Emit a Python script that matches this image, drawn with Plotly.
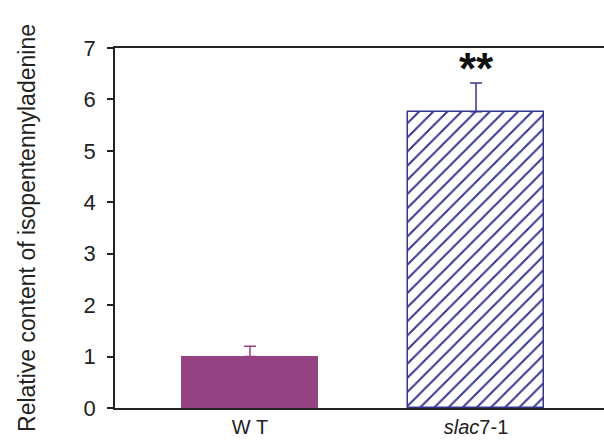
import plotly.graph_objects as go

categories = ["WT", "<i>slac</i>7-1"]
values = [1.0, 5.76]
errors = [0.2, 0.56]
significance = ["", "**"]

purple = "#954283"
blue = "#35358f"

fig = go.Figure()

# Wild type: solid purple bar
fig.add_trace(go.Bar(
    x=[0], y=[values[0]], width=0.605,
    marker=dict(color=purple, line=dict(color=purple, width=1)),
    error_y=dict(type="data", array=[errors[0]], arrayminus=[0], symmetric=False,
                 color=purple, thickness=1.5, width=6),
    showlegend=False,
))

# Mutant: white bar with blue diagonal hatching
fig.add_trace(go.Bar(
    x=[1], y=[values[1]], width=0.605,
    marker=dict(color="white", line=dict(color=blue, width=1.5),
                pattern=dict(shape="/", fgcolor=blue, bgcolor="white", size=10,
                             solidity=0.2, fgopacity=1)),
    error_y=dict(type="data", array=[errors[1]], arrayminus=[0], symmetric=False,
                 color=blue, thickness=1.5, width=6),
    showlegend=False,
))

for i, s in enumerate(significance):
    if s:
        fig.add_annotation(x=i, y=values[i] + errors[i], text=f"<b>{s}</b>",
                           showarrow=False, yanchor="bottom", yshift=-12,
                           font=dict(size=44, color="#111111", family="Liberation Sans"))

fig.update_layout(
    width=604, height=443,
    margin=dict(l=115, r=0, t=48, b=35),
    plot_bgcolor="white", paper_bgcolor="white",
    font=dict(family="Liberation Sans, Arial, sans-serif", size=20, color="#222222"),
    bargap=0,
)
fig.update_xaxes(
    range=[-0.597, 1.566], tickvals=[0, 1], ticktext=["W T", categories[1]],
    tickfont=dict(size=20),
    showline=True, linecolor="#222222", linewidth=1.5, mirror=True,
    ticks="", showgrid=False, zeroline=False, fixedrange=True,
)
fig.update_yaxes(
    range=[0, 7], dtick=1, tick0=0,
    showline=True, linecolor="#222222", linewidth=1.5,
    ticks="outside", ticklen=6, tickwidth=1.5, tickcolor="#222222",
    ticklabelstandoff=7,
    showgrid=False, zeroline=False,
    title=dict(text="Relative content of isopentennyladenine", font=dict(size=23), standoff=42),
    tickfont=dict(size=22),
)

fig.write_html("out.html")
